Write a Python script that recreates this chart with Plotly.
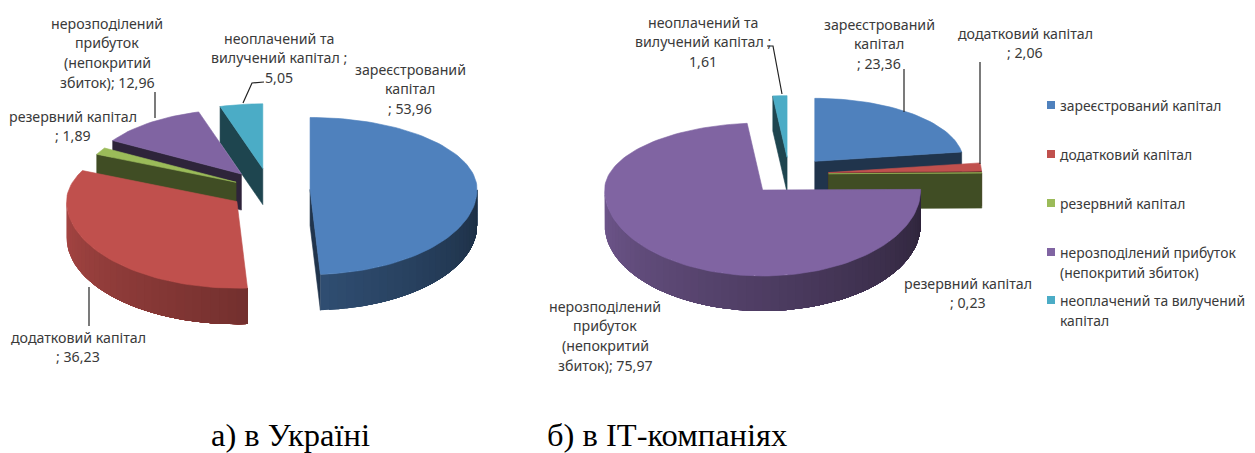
import math
import plotly.graph_objects as go

categories = ["зареєстрований капітал", "додатковий капітал", "резервний капітал",
              "нерозподілений прибуток (непокритий збиток)", "неоплачений та вилучений капітал"]
values_ua = [53.96, 36.23, 1.89, 12.96, 5.05]
values_it = [23.36, 2.06, 0.23, 75.97, 1.61]
captions = ["а) в Україні", "б) в ІТ-компаніях"]

colors = [(79, 129, 189), (192, 80, 77), (155, 187, 89), (128, 100, 162), (75, 172, 198)]
face_factor = [0.40, 0.45, 0.41, 0.36, 0.40]

pie_ua = dict(values=values_ua, c=(270, 190), rx=167, ryb=72, ryf=85, depth=36, start=0,
              explode=[0.24, 0.24, 0.23, 0.28, 0.30], scale=[1, 1.02, 0.92, 0.90, 0.90])
pie_it = dict(values=values_it, c=(789, 174), rx=158, ryb=67, ryf=86, depth=35, start=0,
              explode=[0.25, 0.25, 0.25, 0.25, 0.25], scale=[0.94, 0.97, 0.97, 1, 0.92])

fig = go.Figure()


def rgb(c, f=1.0):
    return "rgb(%d,%d,%d)" % tuple(round(v * f) for v in c)


def poly(pts, color, lw=0.6):
    fig.add_trace(go.Scatter(x=[p[0] for p in pts], y=[p[1] for p in pts], mode="lines", fill="toself",
                             fillcolor=color, line=dict(color=color, width=lw),
                             hoverinfo="skip", showlegend=False))


def draw_pie(p):
    total = sum(p["values"])
    a = p["start"]
    slices = []
    for i, v in enumerate(p["values"]):
        slices.append((i, a, a + v / total * 360))
        a += v / total * 360

    def offs(t, r):
        s, co = math.sin(math.radians(t)), math.cos(math.radians(t))
        return (p["rx"] * r * s, -(p["ryb"] if co > 0 else p["ryf"]) * r * co)

    slices.sort(key=lambda q: -math.cos(math.radians((q[1] + q[2]) / 2)))
    for i, t0, t1 in slices:
        d = offs((t0 + t1) / 2, p["explode"][i])
        ax, ay = p["c"][0] + d[0], p["c"][1] + d[1]
        sc = p["scale"][i]
        pt = lambda t: (ax + offs(t, sc)[0], ay + offs(t, sc)[1])
        dp = p["depth"]
        face = rgb(colors[i], face_factor[i])
        for t, vis in ((t0, math.sin(math.radians(t0)) < 0), (t1, math.sin(math.radians(t1)) > 0)):
            if vis:
                q = pt(t)
                poly([(ax, ay), q, (q[0], q[1] + dp), (ax, ay + dp), (ax, ay)], face)
        lo, hi = max(t0, 90), min(t1, 270)
        # wall gradient: draw from the light end, each band reaching to the slice end so no seams show
        t = hi
        while t > lo:
            u = max(t - 3, lo)
            f = 0.35 + 0.52 * ((t + u) / 2 - 90) / 180
            n = max(1, int((t - lo) / 3))
            arc = [pt(lo + (t - lo) * k / n) for k in range(n + 1)]
            poly(arc + [(q[0], q[1] + dp) for q in reversed(arc)] + [arc[0]], rgb(colors[i], f), lw=0)
            t = u
        n = max(2, int((t1 - t0) / 2))
        arc = [pt(t0 + (t1 - t0) * k / n) for k in range(n + 1)]
        poly([(ax, ay)] + arc + [(ax, ay)], rgb(colors[i]))


draw_pie(pie_ua)
draw_pie(pie_it)

leaders = [
    ([155, 155], [92, 118]),
    ([89, 89], [287, 326]),
    ([243, 252, 264], [103, 83, 82]),
    ([767, 773, 782], [46, 46, 94]),
    ([904, 904], [69, 112]),
    ([980, 980], [62, 164]),
]
for lx, ly in leaders:
    fig.add_trace(go.Scatter(x=lx, y=ly, mode="lines", line=dict(color="#222222", width=1.2),
                             hoverinfo="skip", showlegend=False))


def fmt(v):
    return f"{v:.2f}".replace(".", ",")


FONT = "Noto Sans"
TEXT = "#3a3a3a"
labels = [
    (107, 23, ["нерозподілений", "прибуток", "(непокритий", "збиток); " + fmt(values_ua[3])]),
    (279, 38, ["неоплачений та", "вилучений капітал ;", fmt(values_ua[4])]),
    (410, 69, ["зареєстрований", "капітал", "; " + fmt(values_ua[0])]),
    (73, 116, ["резервний капітал", "; " + fmt(values_ua[2])]),
    (78, 337, ["додатковий капітал", "; " + fmt(values_ua[1])]),
    (703, 22, ["неоплачений та", "вилучений капітал ;", fmt(values_it[4])]),
    (879, 24, ["зареєстрований", "капітал", "; " + fmt(values_it[0])]),
    (1025, 33, ["додатковий капітал", "; " + fmt(values_it[1])]),
    (968, 283, ["резервний капітал", "; " + fmt(values_it[2])]),
    (605, 306, ["нерозподілений", "прибуток", "(непокритий", "збиток); " + fmt(values_it[3])]),
]
ann = []


def note(x, y, s, anchor="center", size=14.2, family=FONT, color=TEXT):
    ann.append(dict(x=x, y=y, text=s, showarrow=False, xanchor=anchor, yanchor="middle", xref="x", yref="y",
                    font=dict(family=family, size=size, color=color)))


for x, y, lines in labels:
    for k, s in enumerate(lines):
        note(x, y + k * 19.8, s)

legend_y = [105, 154, 203, 252, 300]
legend_lines = [["зареєстрований капітал"], ["додатковий капітал"], ["резервний капітал"],
                ["нерозподілений прибуток", "(непокритий збиток)"],
                ["неоплачений та вилучений", "капітал"]]
fig.add_trace(go.Scatter(x=[1051] * 5, y=legend_y, mode="markers",
                         marker=dict(symbol="square", size=8, color=[rgb(c) for c in colors]),
                         text=categories, hoverinfo="text", showlegend=False))
for y, lines in zip(legend_y, legend_lines):
    for k, s in enumerate(lines):
        note(1058, y + k * 20, s, anchor="left", size=13.9)

note(290.5, 435, captions[0], size=32.5, family="Liberation Serif", color="#000000")
note(666.5, 435, captions[1], size=32.5, family="Liberation Serif", color="#000000")

fig.update_layout(width=1255, height=453, margin=dict(l=0, r=0, t=0, b=0), paper_bgcolor="white",
                  plot_bgcolor="white", annotations=ann, showlegend=False,
                  xaxis=dict(range=[0, 1255], visible=False, fixedrange=True),
                  yaxis=dict(range=[453, 0], visible=False, fixedrange=True))
fig.write_html("out.html", config=dict(displayModeBar=False),
               post_script="document.body.style.margin='0';document.body.style.overflow='hidden';")
